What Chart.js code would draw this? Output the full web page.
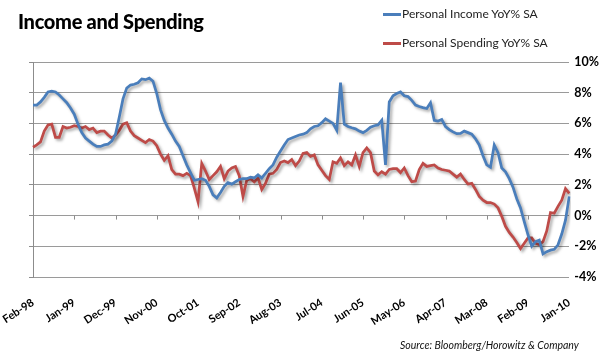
<!DOCTYPE html>
<html>
<head>
<meta charset="utf-8">
<title>Income and Spending</title>
<script src="https://cdn.jsdelivr.net/npm/chart.js@4.4.1/dist/chart.umd.min.js"></script>
<style>
  html, body { margin: 0; padding: 0; background: #fff; }
  #contenedor { position: relative; width: 610px; height: 358px; font-family: Lato, "Open Sans", sans-serif; }
  #grafico { position: absolute; left: 0; top: 0; }
  .titulo { position: absolute; left: 18px; top: 9px; font-size: 20px; letter-spacing: -0.3px; font-weight: 900; color: #000; white-space: nowrap; }
  .leyenda { position: absolute; left: 383px; font-size: 12px; color: #222; white-space: nowrap; line-height: 14px; }
  .leyenda .linea { display: inline-block; width: 18px; height: 3px; vertical-align: middle; margin-right: 1px; }
  .fuente { position: absolute; left: 400px; top: 339px; font-size: 10.5px; font-style: italic; color: #111; white-space: nowrap; }
</style>
</head>
<body>
<div id="contenedor">
  <canvas id="grafico" width="610" height="358"></canvas>
  <div class="titulo">Income and Spending</div>
  <div class="leyenda" style="top:7px"><span class="linea" style="background:#4A7EBB"></span>Personal Income YoY% SA</div>
  <div class="leyenda" style="top:36px"><span class="linea" style="background:#BE4B48"></span>Personal Spending YoY% SA</div>
  <div class="fuente">Source: Bloomberg/Horowitz &amp; Company</div>
</div>
<script>
// =========================
// Datos (mensuales, Feb-98 a Jan-10)
// =========================
const etiquetasEje = ["Feb-98", "Jan-99", "Dec-99", "Nov-00", "Oct-01", "Sep-02", "Aug-03",
    "Jul-04", "Jun-05", "May-06", "Apr-07", "Mar-08", "Feb-09", "Jan-10"];

const ingresos = [
    7.2, 7.2, 7.4, 7.7, 8.05, 8.1, 8.05, 7.85, 7.6, 7.35, 7.0, 6.6,
    5.95, 5.4, 5.05, 4.85, 4.65, 4.5, 4.5, 4.6, 4.65, 4.85, 5.3, 6.4,
    7.6, 8.3, 8.5, 8.55, 8.65, 8.9, 8.85, 8.95, 8.75, 7.95, 6.9, 6.2,
    5.7, 5.3, 4.85, 4.5, 3.9, 3.3, 2.8, 2.3, 2.35, 2.4, 2.3, 1.9,
    1.35, 1.15, 1.5, 1.9, 2.15, 2.05, 2.2, 2.35, 2.4, 2.4, 2.5, 2.45,
    2.65, 2.45, 2.75, 3.05, 3.3, 3.8, 4.2, 4.6, 4.95, 5.05, 5.15, 5.25,
    5.3, 5.4, 5.65, 5.8, 5.85, 6.05, 6.3, 6.15, 6.0, 5.55, 8.65, 5.95,
    5.8, 5.72, 5.65, 5.5, 5.4, 5.55, 5.75, 5.85, 5.9, 6.2, 3.3, 7.4,
    7.8, 7.95, 8.05, 7.8, 7.75, 7.5, 7.2, 7.1, 7.03, 6.97, 7.35, 6.2,
    6.15, 6.25, 5.8, 5.6, 5.45, 5.33, 5.35, 5.5, 5.4, 5.3, 5.0, 4.6,
    3.9, 3.3, 3.15, 4.6, 4.1, 3.1, 2.85, 2.4, 1.85, 1.1, 0.5, -0.4,
    -1.25, -2.0, -1.7, -1.6, -2.5, -2.35, -2.25, -2.2, -1.9, -1.2, -0.3, 1.25
];

const gastos = [
    4.45, 4.6, 4.8, 5.5, 5.9, 5.95, 5.1, 5.1, 5.8, 5.7, 5.75, 5.85,
    5.8, 5.7, 5.8, 5.6, 5.7, 5.4, 5.5, 5.5, 5.25, 5.05, 5.25, 5.55,
    5.95, 6.05, 5.5, 5.2, 5.05, 4.9, 4.75, 4.95, 4.85, 4.55, 4.0, 3.6,
    3.9, 3.0, 2.7, 2.7, 2.6, 2.75, 2.6, 1.8, 0.9, 3.4, 2.9, 2.35,
    2.6, 2.85, 3.2, 2.4, 2.9, 3.1, 3.2, 2.6, 1.25, 2.3, 2.4, 2.2,
    2.45, 1.7, 2.1, 2.7, 2.75, 3.0, 3.45, 3.55, 3.45, 3.65, 3.25, 3.55,
    4.05, 4.1, 3.85, 3.95, 3.3, 2.95, 2.6, 2.35, 3.5, 3.4, 3.75, 3.25,
    3.5, 3.3, 3.95, 3.2, 4.1, 4.4, 4.1, 2.9, 2.65, 2.85, 2.7, 3.0,
    3.05, 3.05, 2.8, 3.1, 2.6, 2.2, 2.25, 3.0, 3.4, 3.2, 3.25, 3.3,
    3.1, 3.0, 2.95, 2.9, 2.7, 2.5, 2.7, 2.35, 2.05, 2.1, 1.7, 1.25,
    1.0, 0.85, 0.85, 0.75, 0.5, -0.05, -0.7, -1.1, -1.4, -1.75, -2.15, -1.8,
    -1.45, -1.45, -1.8, -1.9, -1.7, -1.0, 0.2, 0.15, 0.6, 1.0, 1.75, 1.45
];

// =========================
// Meses del eje (una categoría por mes)
// =========================
const nombresMes = ["Jan", "Feb", "Mar", "Apr", "May", "Jun", "Jul", "Aug", "Sep", "Oct", "Nov", "Dec"];
const meses = ingresos.map((_, i) => {
    const m = (1 + i) % 12;
    const anio = (1998 + Math.floor((1 + i) / 12)) % 100;
    return nombresMes[m] + "-" + String(anio).padStart(2, "0");
});
const pasoEtiqueta = 11;

// =========================
// Sombra de las líneas (estilo Excel)
// =========================
const sombraLineas = {
    id: "sombraLineas",
    beforeDatasetDraw(chart) {
        const ctx = chart.ctx;
        ctx.save();
        ctx.shadowColor = "rgba(0,0,0,0.35)";
        ctx.shadowBlur = 3;
        ctx.shadowOffsetX = 2;
        ctx.shadowOffsetY = 2;
    },
    afterDatasetDraw(chart) {
        chart.ctx.restore();
    }
};

// =========================
// Marcas del eje X sobre la línea del 0%
// =========================
const marcasCero = {
    id: "marcasCero",
    afterDatasetsDraw(chart) {
        const ctx = chart.ctx;
        const x = chart.scales.x;
        const y0 = chart.scales.y.getPixelForValue(0);
        ctx.save();
        ctx.strokeStyle = "#8c8c8c";
        ctx.lineWidth = 1;
        ctx.beginPath();
        for (let i = pasoEtiqueta; i < meses.length - 1; i += pasoEtiqueta) {
            const px = Math.round(x.getPixelForValue(i)) + 0.5;
            ctx.moveTo(px, y0);
            ctx.lineTo(px, y0 + 4);
        }
        ctx.stroke();
        ctx.restore();
    }
};

// =========================
// Gráfico de líneas
// =========================
new Chart(document.getElementById("grafico"), {
    type: "line",
    data: {
        labels: meses,
        datasets: [
            {
                label: "Personal Income YoY% SA",
                data: ingresos,
                borderColor: "#4A7EBB",
                borderWidth: 2.75,
                pointRadius: 0,
                tension: 0
            },
            {
                label: "Personal Spending YoY% SA",
                data: gastos,
                borderColor: "#BE4B48",
                borderWidth: 2.75,
                pointRadius: 0,
                tension: 0
            }
        ]
    },
    plugins: [sombraLineas, marcasCero],
    options: {
        responsive: false,
        animation: false,
        layout: { padding: { left: 29, right: 6, top: 62, bottom: 11 } },
        plugins: {
            legend: { display: false },
            title: { display: false },
            tooltip: { enabled: false }
        },
        scales: {
            x: {
                offset: false,
                grid: { display: false },
                border: { display: false },
                // alto fijo del eje y sin relleno lateral por las etiquetas giradas
                afterFit: escala => {
                    escala.paddingLeft = 0;
                    escala.paddingRight = 0;
                    escala.height = 70;
                },
                ticks: {
                    autoSkip: false,
                    minRotation: 33,
                    maxRotation: 33,
                    padding: 11,
                    color: "#000",
                    font: { family: "Lato", size: 11, weight: "bold" },
                    callback: (valor, indice) => indice % pasoEtiqueta === 0 ? etiquetasEje[indice / pasoEtiqueta] : null
                }
            },
            y: {
                position: "right",
                min: -4,
                max: 10,
                grid: { color: "#9a9a9a", drawTicks: false },
                border: { display: false },
                ticks: {
                    stepSize: 2,
                    padding: 5,
                    color: "#000",
                    font: { family: "Lato", size: 12.5, weight: "bold" },
                    callback: v => v + "%"
                }
            },
            yIzq: {
                position: "left",
                min: -4,
                max: 10,
                grid: { drawOnChartArea: false, tickLength: 4, color: "#8c8c8c" },
                border: { display: true, color: "#8c8c8c" },
                ticks: { stepSize: 2, display: false }
            }
        }
    }
});
</script>
</body>
</html>
